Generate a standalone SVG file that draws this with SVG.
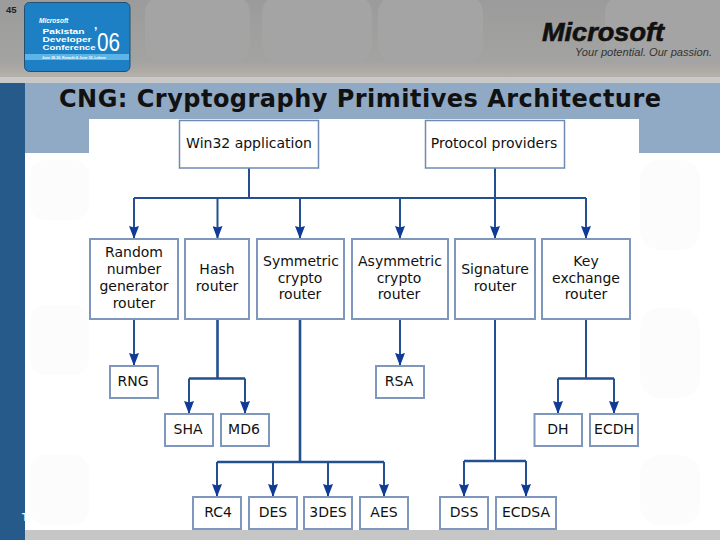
<svg xmlns="http://www.w3.org/2000/svg" width="720" height="540" viewBox="0 0 720 540">
<defs>
<linearGradient id="hdr" x1="0" y1="0" x2="0" y2="1"><stop offset="0" stop-color="#9b9b9b"/><stop offset="0.8" stop-color="#a3a3a1"/><stop offset="1" stop-color="#b5b0aa"/></linearGradient>
<marker id="arr" viewBox="0 0 13 10" refX="13" refY="5" markerUnits="userSpaceOnUse" markerWidth="13" markerHeight="10" orient="auto"><path d="M0 0L1.500 5L0 10L13 5Z" fill="#0f3a96"/></marker>
</defs>
<style>
.box{fill:#fff;stroke:#7f96bd;stroke-width:2}
.thin{stroke-width:1.500;stroke:#6f8ab3}
.lbl{font-family:"DejaVu Sans",sans-serif;font-size:14px;fill:#111;text-anchor:middle}
.c{fill:none;stroke:#24508f;stroke-width:2}
.t{fill:none;stroke:#24508f;stroke-width:2.600}
.a{fill:none;stroke:#24508f;stroke-width:2;marker-end:url(#arr)}
.bgs{fill:#fcfcfd}
.hs{fill:#a4a4a4}
</style>
<rect width="720" height="540" fill="#fff"/>
<g id="background">
<rect x="0" y="0" width="720" height="77" fill="url(#hdr)"/>
<rect x="145" y="-5" width="105" height="68" rx="18" class="hs"/>
<rect x="262" y="-5" width="110" height="68" rx="18" class="hs"/>
<rect x="378" y="-5" width="105" height="68" rx="18" class="hs"/>
<rect x="605" y="-5" width="125" height="68" rx="18" class="hs"/>
<rect x="0" y="77" width="720" height="6" fill="#c9c9c9"/>
<rect x="25" y="83" width="695" height="70" fill="#90a9c5"/>
<rect x="0" y="83" width="25" height="457" fill="#265a8a"/>
<rect x="25" y="530" width="695" height="10" fill="#c6c6c6"/>
<rect x="640" y="160" width="60" height="90" rx="20" class="bgs"/>
<rect x="640" y="308" width="60" height="90" rx="20" class="bgs"/>
<rect x="640" y="455" width="60" height="70" rx="20" class="bgs"/>
<rect x="30" y="160" width="59" height="60" rx="16" class="bgs"/>
<rect x="30" y="305" width="59" height="70" rx="16" class="bgs"/>
<rect x="30" y="455" width="59" height="70" rx="16" class="bgs"/>
<rect x="89" y="119" width="550" height="411" fill="#fff"/>
</g>
<text x="6" y="13" font-family="Liberation Sans, sans-serif" font-size="9.500" font-weight="700" fill="#222">45</text>
<g id="logo">
<rect x="24.500" y="2.500" width="105.500" height="69" rx="5" fill="#1d80c4" stroke="#23506f"/>
<rect x="25" y="54" width="104" height="6" fill="#5cb5e6"/>
<g font-family="Liberation Sans, sans-serif" fill="#fff">
<text x="39" y="23" font-size="6.500" font-weight="700" font-style="italic">Microsoft</text>
<text x="42.500" y="33.500" font-size="7.500" font-weight="700" textLength="42" lengthAdjust="spacingAndGlyphs">Pakistan</text>
<text x="42.500" y="41.500" font-size="7.500" font-weight="700" textLength="49" lengthAdjust="spacingAndGlyphs">Developer</text>
<text x="42.500" y="49.500" font-size="7.500" font-weight="700" textLength="53" lengthAdjust="spacingAndGlyphs">Conference</text>
<text x="42" y="58.500" font-size="3.500" font-weight="700">June 28-30, Karachi &amp; June 30, Lahore</text>
<text x="97" y="51" font-size="26" textLength="23" lengthAdjust="spacingAndGlyphs">06</text>
<text x="94" y="36" font-size="12" font-weight="700">’</text>
</g>
</g>
<g id="brand" font-family="Liberation Sans, sans-serif">
<text x="542" y="40.500" font-size="25" font-weight="700" font-style="italic" fill="#111" stroke="#111" stroke-width="0.600" textLength="122" lengthAdjust="spacingAndGlyphs">Microsoft</text>
<text x="575" y="55.500" font-size="10" font-style="italic" fill="#333" textLength="137" lengthAdjust="spacingAndGlyphs">Your potential. Our passion.</text>
</g>
<text id="title" x="360" y="107" font-family="DejaVu Sans, sans-serif" font-size="24" font-weight="700" fill="#111" text-anchor="middle" textLength="602" lengthAdjust="spacing">CNG: Cryptography Primitives Architecture</text>
<text x="22" y="521" font-family="Liberation Sans, sans-serif" font-size="10" font-weight="700" fill="#fff">T</text>
<g id="connectors">
<path class="c" d="M249 168V198M134 198H586M586 319V378.500"/>
<path class="t" d="M217.500 319V378.500M189 378.500H245M300 319V462M217 462H384M464 461H526M558 378.500H614"/>
<path class="c" d="M495 319V461"/>
<path class="a" d="M134 198V239"/><path class="a" d="M217.500 198V239"/><path class="a" d="M300 198V239"/><path class="a" d="M400 198V239"/><path class="a" d="M495 168V239"/><path class="a" d="M586 198V239"/>
<path class="a" d="M134 319V366"/><path class="a" d="M400 319V366"/>
<path class="a" d="M189 378.500V414"/><path class="a" d="M245 378.500V414"/><path class="a" d="M558 378.500V414"/><path class="a" d="M614 378.500V414"/>
<path class="a" d="M217 462V497"/><path class="a" d="M273 462V497"/><path class="a" d="M328 462V497"/><path class="a" d="M384 462V497"/>
<path class="a" d="M464 461V497"/><path class="a" d="M526 461V497"/>
</g>
<g id="win32"><rect class="box thin" x="179.500" y="120.500" width="139" height="47.500"/><text class="lbl" x="249" y="148">Win32 application</text></g>
<g id="protocol"><rect class="box thin" x="425.500" y="120.500" width="139" height="47.500"/><text class="lbl" x="494" y="148">Protocol providers</text></g>
<g id="rng-router"><rect class="box" x="90" y="239" width="88" height="80"/><text class="lbl" x="134" y="257">Random</text><text class="lbl" x="134" y="274">number</text><text class="lbl" x="134" y="291">generator</text><text class="lbl" x="134" y="308">router</text></g>
<g id="hash-router"><rect class="box" x="185" y="239" width="64" height="80"/><text class="lbl" x="217" y="274">Hash</text><text class="lbl" x="217" y="291">router</text></g>
<g id="sym-router"><rect class="box" x="257" y="239" width="87" height="80"/><text class="lbl" x="301" y="266">Symmetric</text><text class="lbl" x="300" y="283">crypto</text><text class="lbl" x="300" y="299">router</text></g>
<g id="asym-router"><rect class="box" x="352" y="239" width="96" height="80"/><text class="lbl" x="400" y="266">Asymmetric</text><text class="lbl" x="399" y="283">crypto</text><text class="lbl" x="399" y="299">router</text></g>
<g id="sig-router"><rect class="box" x="455" y="239" width="80" height="80"/><text class="lbl" x="495" y="274">Signature</text><text class="lbl" x="495" y="291">router</text></g>
<g id="key-router"><rect class="box" x="542" y="239" width="88" height="80"/><text class="lbl" x="586" y="266">Key</text><text class="lbl" x="586" y="283">exchange</text><text class="lbl" x="586" y="299">router</text></g>
<g id="rng"><rect class="box" x="110" y="366" width="48" height="32"/><text class="lbl" x="133" y="386">RNG</text></g>
<g id="rsa"><rect class="box" x="376" y="366" width="48" height="32"/><text class="lbl" x="399" y="386">RSA</text></g>
<g id="sha"><rect class="box" x="165" y="414" width="48" height="32"/><text class="lbl" x="188" y="434">SHA</text></g>
<g id="md6"><rect class="box" x="221" y="414" width="48" height="32"/><text class="lbl" x="244" y="434">MD6</text></g>
<g id="dh"><rect class="box" x="534.500" y="414" width="47.500" height="32"/><text class="lbl" x="558" y="434">DH</text></g>
<g id="ecdh"><rect class="box" x="590" y="414" width="48" height="32"/><text class="lbl" x="614" y="434">ECDH</text></g>
<g id="rc4"><rect class="box" x="193" y="497" width="48" height="32"/><text class="lbl" x="218" y="517">RC4</text></g>
<g id="des"><rect class="box" x="249" y="497" width="48" height="32"/><text class="lbl" x="273" y="517">DES</text></g>
<g id="3des"><rect class="box" x="304" y="497" width="48" height="32"/><text class="lbl" x="328" y="517">3DES</text></g>
<g id="aes"><rect class="box" x="360" y="497" width="48" height="32"/><text class="lbl" x="384" y="517">AES</text></g>
<g id="dss"><rect class="box" x="440" y="497" width="48" height="32"/><text class="lbl" x="464" y="517">DSS</text></g>
<g id="ecdsa"><rect class="box" x="496" y="497" width="60" height="32"/><text class="lbl" x="526" y="517">ECDSA</text></g>
</svg>
